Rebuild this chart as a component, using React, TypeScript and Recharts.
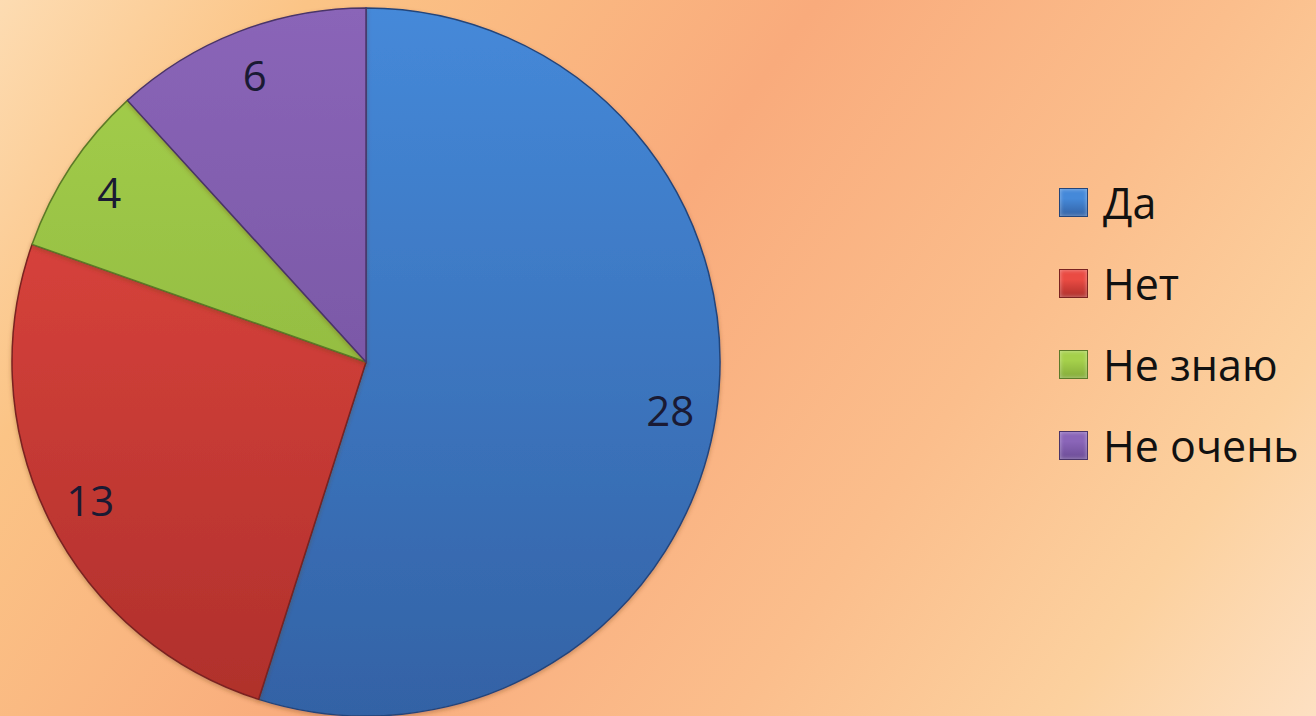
import React from 'react';
import { PieChart, Pie, Cell, Legend } from 'recharts';

const categories = ['Да', 'Нет', 'Не знаю', 'Не очень'];
const values = [28, 13, 4, 6];
const topColors = ['#4589d9', '#ea4b43', '#a5d04b', '#8a65b8'];
const bottomColors = ['#3362a5', '#ae2f2b', '#84ab3a', '#6c4c96'];
const edgeColors = ['#24457a', '#7a2220', '#5c7a28', '#4a3468'];

const data = categories.map((name, i) => ({ name, value: values[i] }));

const RAD = Math.PI / 180;

const renderLabel = (props: any) => {
  const { cx, cy, midAngle, outerRadius, value } = props;
  const r = outerRadius * 0.87;
  const x = cx + r * Math.cos(-midAngle * RAD);
  const y = cy + r * Math.sin(-midAngle * RAD);
  return (
    <text
      x={x}
      y={y}
      fill="#1a1a33"
      textAnchor="middle"
      dominantBaseline="central"
      style={{ fontFamily: '"Open Sans", sans-serif', fontSize: 42 }}
    >
      {value}
    </text>
  );
};

const renderLegend = () => (
  <div style={{ display: 'flex', flexDirection: 'column' }}>
    {categories.map((c, i) => (
      <div
        key={c}
        style={{ display: 'flex', alignItems: 'center', height: 81 }}
      >
        <div
          style={{
            width: 29,
            height: 29,
            boxSizing: 'border-box',
            border: `1.5px solid ${edgeColors[i]}`,
            background: `linear-gradient(180deg, ${topColors[i]} 0%, ${topColors[i]} 35%, ${bottomColors[i]} 100%)`,
            boxShadow: 'inset 0 0 4px rgba(255,255,255,0.45)',
            marginRight: 15,
          }}
        />
        <span
          style={{
            fontFamily: '"Open Sans", sans-serif',
            fontSize: 43,
            lineHeight: 1,
            color: '#111111',
            whiteSpace: 'nowrap',
          }}
        >
          {c}
        </span>
      </div>
    ))}
  </div>
);

export default function App() {
  return (
    <div
      style={{
        position: 'absolute',
        left: 0,
        top: 0,
        width: 1316,
        height: 716,
        overflow: 'hidden',
        background:
          'linear-gradient(125deg, #fddcb2 0%, #fbc486 17%, #f9ab7c 45%, #fbbe8c 68%, #fcd19f 86%, #fde0c2 100%)',
      }}
    >
      <PieChart width={1316} height={716} margin={{ top: 0, right: 0, bottom: 0, left: 0 }}>
        <defs>
          {categories.map((c, i) => (
            <linearGradient
              key={c}
              id={`grad${i}`}
              gradientUnits="userSpaceOnUse"
              x1="0"
              y1="8"
              x2="0"
              y2="716"
            >
              <stop offset="0%" stopColor={topColors[i]} />
              <stop offset="100%" stopColor={bottomColors[i]} />
            </linearGradient>
          ))}
          <filter id="shadow" x="-10%" y="-10%" width="120%" height="120%">
            <feDropShadow dx="0" dy="2" stdDeviation="2" floodColor="#6a3a20" floodOpacity="0.35" />
          </filter>
        </defs>
        <Pie
          data={data}
          dataKey="value"
          nameKey="name"
          cx={366}
          cy={362}
          outerRadius={354}
          startAngle={90}
          endAngle={-270}
          isAnimationActive={false}
          label={renderLabel}
          labelLine={false}
          strokeWidth={1.5}
          style={{ filter: 'url(#shadow)' }}
        >
          {data.map((d, i) => (
            <Cell key={d.name} fill={`url(#grad${i})`} stroke={edgeColors[i]} />
          ))}
        </Pie>
        <Legend
          content={renderLegend}
          wrapperStyle={{ position: 'absolute', left: 1059, top: 162, width: 'auto' }}
        />
      </PieChart>
    </div>
  );
}
